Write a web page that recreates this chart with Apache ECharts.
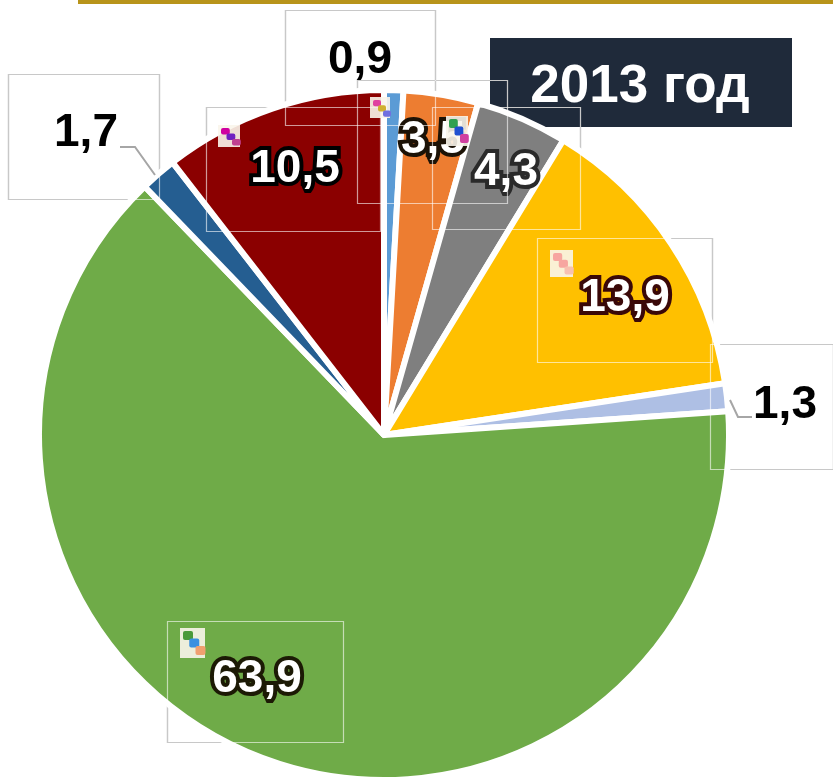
<!DOCTYPE html>
<html>
<head>
<meta charset="utf-8">
<style>html,body{margin:0;padding:0;background:#fff}#c{width:833px;height:778px}</style>
<script src="https://cdn.jsdelivr.net/npm/echarts@6/dist/echarts.min.js"></script>
</head>
<body>
<div id="c"></div>
<script>
const categories = ['a','b','c','d','e','f','g','h'];
const values = [0.9, 3.5, 4.3, 13.9, 1.3, 63.9, 1.7, 10.5];
const tickLabels = ['0,9','3,5','4,3','13,9','1,3','63,9','1,7','10,5'];
const titleText = '2013 год';

const colors = ['#5b9bd5','#ed7d31','#7f7f7f','#ffc000','#aebfe4','#6fab48','#255e91','#8b0000'];
const outlines = ['#000','#1c1206','#2a2a2a','#3a0808','#000','#1c1a05','#000','#000'];
const onWhite = [true,false,false,false,true,false,true,false];
const labelCenters = [[360,60],[433,140],[506,172],[625,298],[785,405],[257,679],[86,133],[295,169]];
const boxes = [[285,10,150,115],[357,80,150,123],[432,107,148,122],[537,238,175,124],
               [710,344,123,125],[167,621,176,121],[8,74,151,125],[206,107,174,124]];
const leaders = [[[730,400],[738,417],[752,417]],[[155,175],[135,147],[120,147]]];
const icons = [
  [370,97,20,21,['#e040a0','#d0b030','#7070e0']],
  [446,116,22,30,['#30a050','#2050d0','#d040a0']],
  [550,250,23,27,['#f7a6a0','#f7a6a0','#f7c0b0']],
  [180,628,25,30,['#4a9a3a','#3a90e0','#f0a070']],
  [218,125,22,22,['#d000a0','#7020c0','#c04090']]
];

const g = [];
g.push({type:'rect',z:0,shape:{x:78,y:0,width:755,height:4},style:{fill:'#b8941a'}});
g.push({type:'rect',z:0,shape:{x:490,y:38,width:302,height:89},style:{fill:'#1f2a3a'}});
g.push({type:'text',z:1,style:{x:640,y:87,text:titleText,fill:'#fff',align:'center',verticalAlign:'middle',
  font:'bold 53px "Liberation Sans"'}});
boxes.forEach(b=>{
  const s={x:b[0]+.5,y:b[1]+.5,width:b[2],height:b[3]};
  g.push({type:'rect',z:1,shape:s,style:{fill:'none',stroke:'#777',lineWidth:1.2}});
  g.push({type:'rect',z:8,shape:s,style:{fill:'none',stroke:'rgba(255,255,255,0.6)',lineWidth:1.2}});
});
leaders.forEach(p=>g.push({type:'polyline',z:9,shape:{points:p},style:{fill:'none',stroke:'#a6a6a6',lineWidth:2}}));
icons.forEach(i=>{
  g.push({type:'rect',z:9,shape:{x:i[0],y:i[1],width:i[2],height:i[3]},style:{fill:'rgba(250,245,235,0.9)'}});
  i[4].forEach((c,k)=>g.push({type:'rect',z:9,
    shape:{x:i[0]+3+k*i[2]/4,y:i[1]+3+k*i[3]/4,width:i[2]*0.4,height:i[3]*0.3,r:2},style:{fill:c}}));
});

const chart = echarts.init(document.getElementById('c'));
chart.setOption({
  animation:false,
  graphic:{elements:g},
  series:[{
    type:'pie',z:5,
    center:[384,435],radius:[0,345],
    startAngle:90,clockwise:true,
    avoidLabelOverlap:false,
    silent:true,
    itemStyle:{borderColor:'#fff',borderWidth:6},
    labelLine:{show:false},
    labelLayout:p=>{
      const c=labelCenters[p.dataIndex];
      return {x:c[0],y:c[1],align:'center',verticalAlign:'middle'};
    },
    data:values.map((v,i)=>({
      name:categories[i],value:v,
      itemStyle:{color:colors[i]},
      label:{
        show:true,position:onWhite[i]?'outside':'inside',
        formatter:()=>tickLabels[i],
        fontFamily:'Liberation Sans',fontWeight:'bold',fontSize:46,
        color:onWhite[i]?'#000':'#fff',
        textBorderColor:onWhite[i]?'transparent':outlines[i],
        textBorderWidth:onWhite[i]?0:8
      }
    }))
  }]
});
</script>
</body>
</html>
